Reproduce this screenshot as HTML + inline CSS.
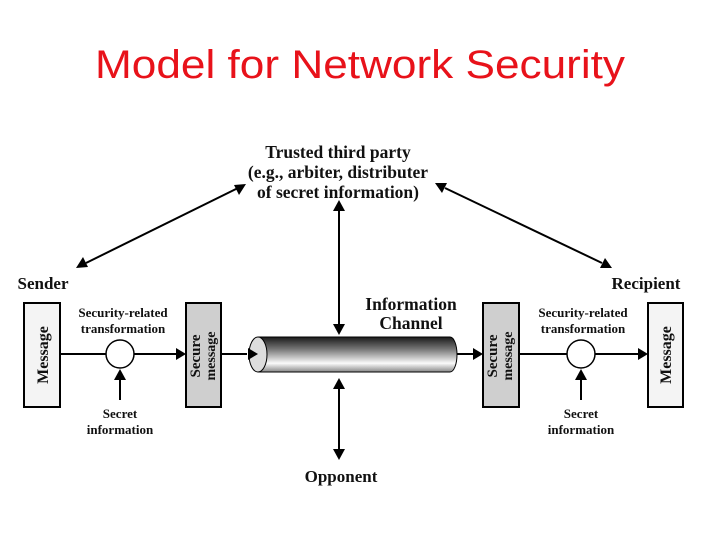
<!DOCTYPE html>
<html><head><meta charset="utf-8"><style>
html,body{margin:0;padding:0;background:#fff;}
svg{display:block;}
.t{font-family:"Liberation Serif",serif;font-weight:bold;fill:#111;}
</style></head><body>
<svg width="720" height="540" viewBox="0 0 720 540" xmlns="http://www.w3.org/2000/svg">
<defs>
<linearGradient id="cyl" x1="0" y1="0" x2="0" y2="1">
<stop offset="0" stop-color="#1a1a1a"/>
<stop offset="0.35" stop-color="#777"/>
<stop offset="0.75" stop-color="#fafafa"/>
<stop offset="1" stop-color="#888"/>
</linearGradient>
</defs>
<text x="360" y="78" text-anchor="middle" font-family="Liberation Sans, sans-serif" font-size="40" fill="#e8121a" textLength="530" lengthAdjust="spacingAndGlyphs">Model for Network Security</text>

<g class="t" text-anchor="middle">
<text x="338" y="158" font-size="17.5">Trusted third party</text>
<text x="338" y="178" font-size="17.5">(e.g., arbiter, distributer</text>
<text x="338" y="198" font-size="17.5">of secret information)</text>
<text x="43" y="289" font-size="17">Sender</text>
<text x="646" y="289" font-size="17">Recipient</text>
<text x="411" y="310" font-size="17.5">Information</text>
<text x="411" y="329" font-size="17.5">Channel</text>
<text x="123" y="317" font-size="13">Security-related</text>
<text x="123" y="333" font-size="13">transformation</text>
<text x="583" y="317" font-size="13">Security-related</text>
<text x="583" y="333" font-size="13">transformation</text>
<text x="120" y="418" font-size="13">Secret</text>
<text x="120" y="434" font-size="13">information</text>
<text x="581" y="418" font-size="13">Secret</text>
<text x="581" y="434" font-size="13">information</text>
<text x="341" y="482" font-size="17">Opponent</text>
</g>

<g stroke="#000" stroke-width="2" fill="none">
<rect x="24" y="303" width="36" height="104" fill="#f4f4f4"/>
<rect x="186" y="303" width="35" height="104" fill="#cfcfcf"/>
<rect x="483" y="303" width="36" height="104" fill="#cfcfcf"/>
<rect x="648" y="303" width="35" height="104" fill="#f4f4f4"/>
<line x1="60" y1="354" x2="106" y2="354"/>
<line x1="134" y1="354" x2="178" y2="354"/>
<line x1="221" y1="354" x2="247" y2="354"/>
<line x1="457" y1="354" x2="475" y2="354"/>
<line x1="519" y1="354" x2="567" y2="354"/>
<line x1="595" y1="354" x2="640" y2="354"/>
<line x1="120" y1="378" x2="120" y2="400"/>
<line x1="581" y1="378" x2="581" y2="400"/>
<line x1="339" y1="208" x2="339" y2="326"/>
<line x1="339" y1="386" x2="339" y2="452"/>
<line x1="238" y1="188" x2="86" y2="263"/>
<line x1="445" y1="188" x2="602" y2="263"/>
</g>
<circle cx="120" cy="354" r="14" fill="#fff" stroke="#000" stroke-width="1.5"/>
<circle cx="581" cy="354" r="14" fill="#fff" stroke="#000" stroke-width="1.5"/>
<path d="M258 337 H450 A7 17.5 0 0 1 450 372 H258 Z" fill="url(#cyl)" stroke="#000" stroke-width="1"/>
<ellipse cx="258" cy="354.5" rx="9" ry="17.5" fill="#ddd" stroke="#000" stroke-width="1"/>
<g fill="#000">
<polygon points="186,354 176,348 176,360"/>
<polygon points="258,354 248,348 248,360"/>
<polygon points="483,354 473,348 473,360"/>
<polygon points="648,354 638,348 638,360"/>
<polygon points="120,369 114,380 126,380"/>
<polygon points="581,369 575,380 587,380"/>
<polygon points="339,200 333,211 345,211"/>
<polygon points="339,335 333,324 345,324"/>
<polygon points="339,378 333,389 345,389"/>
<polygon points="339,460 333,449 345,449"/>
<polygon points="246,184 234,185 239,195"/>
<polygon points="76,268 88,267 83,257"/>
<polygon points="435,183 442,193 447,183"/>
<polygon points="612,268 600,268 605,258"/>
</g>
<g class="t" text-anchor="middle">
<text transform="translate(48,355) rotate(-90)" font-size="16">Message</text>
<text transform="translate(671,355) rotate(-90)" font-size="16">Message</text>
<text transform="translate(200,356) rotate(-90)" font-size="15">Secure</text>
<text transform="translate(215,356) rotate(-90)" font-size="14">message</text>
<text transform="translate(497,356) rotate(-90)" font-size="15">Secure</text>
<text transform="translate(512,356) rotate(-90)" font-size="14">message</text>
</g>
</svg>
</body></html>
